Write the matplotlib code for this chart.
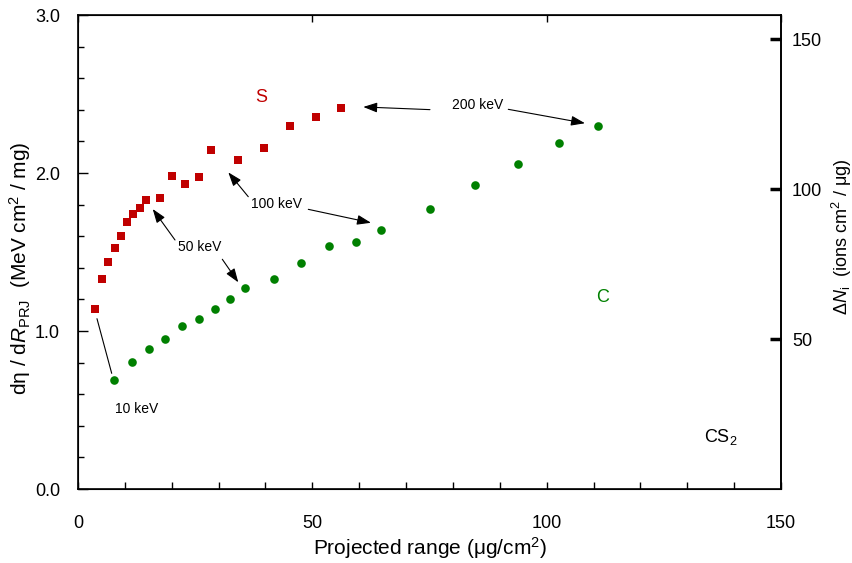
import numpy as np
import matplotlib
matplotlib.use('Agg')
import matplotlib.pyplot as plt
from matplotlib.ticker import MultipleLocator

plt.rcParams['font.family'] = ['Liberation Sans', 'DejaVu Sans']
plt.rcParams['mathtext.fontset'] = 'custom'
plt.rcParams['mathtext.rm'] = 'Liberation Sans'
plt.rcParams['mathtext.it'] = 'Liberation Sans:italic'

# sulfur ions: projected range (ug/cm2) vs dEta/dR
s_range = [3.69, 5.12, 6.34, 7.89, 9.11, 10.52, 11.80, 13.23, 14.51, 17.43,
           20.12, 22.89, 25.75, 28.44, 34.07, 39.68, 45.17, 50.78, 56.18]
s_deta = [1.137, 1.327, 1.437, 1.525, 1.600, 1.692, 1.739, 1.780, 1.827, 1.844,
          1.981, 1.928, 1.975, 2.146, 2.084, 2.160, 2.296, 2.356, 2.411]

# carbon ions
c_range = [7.74, 11.59, 15.15, 18.63, 22.19, 25.75, 29.16, 32.36, 35.57, 41.82,
           47.58, 53.49, 59.31, 64.71, 75.17, 84.70, 93.94, 102.69, 110.88]
c_deta = [0.692, 0.802, 0.888, 0.951, 1.030, 1.074, 1.141, 1.203, 1.270, 1.327,
          1.432, 1.538, 1.561, 1.641, 1.770, 1.926, 2.055, 2.190, 2.296]

red = '#c00000'
green = '#008000'

fig = plt.figure(figsize=(8.53, 5.63), dpi=100)
ax = fig.add_axes([78/853, 74/563, 703/853, 474/563])

ax.plot(s_range, s_deta, 's', color=red, markersize=6, markeredgewidth=0)
ax.plot(c_range, c_deta, 'o', color=green, markersize=6.2, markeredgewidth=0)

ax.set_xlim(0, 150)
ax.set_ylim(0, 3.0)
ax.xaxis.set_major_locator(MultipleLocator(50))
ax.xaxis.set_minor_locator(MultipleLocator(10))
ax.yaxis.set_major_locator(MultipleLocator(1.0))
ax.yaxis.set_minor_locator(MultipleLocator(0.2))
ax.yaxis.set_major_formatter(plt.FormatStrFormatter('%.1f'))
ax.tick_params(axis='x', which='both', direction='in', length=5, width=1,
               labelsize=13, pad=19, top=True)
ax.tick_params(axis='x', which='minor', top=False)
ax.tick_params(axis='y', which='major', direction='in', length=7, width=1,
               labelsize=13, pad=13)
ax.tick_params(axis='y', which='minor', direction='in', length=4, width=1)
for sp in ax.spines.values():
    sp.set_linewidth(1.2)

ax.set_xlabel('Projected range (μg/cm$^2$)', fontsize=15)
ax.xaxis.label.set_va('center')
ax.xaxis.set_label_coords(0.5, -0.124)
ax.set_ylabel('dη / d$\\mathit{R}_{\\rm PRJ}$  (MeV cm$^2$ / mg)', fontsize=15)
ax.yaxis.label.set_va('center')
ax.yaxis.set_label_coords(-0.082, 0.466)

# right axis: number of ions
ax2 = ax.twinx()
ax2.set_ylim(0, 158)
ax2.set_yticks([50, 100, 150])
ax2.tick_params(axis='y', direction='in', length=8, width=2.5, labelsize=13, pad=8)
ax2.spines['right'].set_linewidth(1.2)
ax2.set_ylabel('Δ$\\mathit{N}_{\\rm i}$  (ions cm$^2$ / μg)', fontsize=13)
ax2.yaxis.label.set_va('center')
ax2.yaxis.set_label_coords(1.087, 0.532)

arrow = dict(arrowstyle='-|>,head_length=0.7,head_width=0.25', color='black',
             lw=0.8, shrinkA=0, shrinkB=0, mutation_scale=12)
line = dict(arrowstyle='-', color='black', lw=0.8, shrinkA=0, shrinkB=0)

ax.annotate('', xy=(7.19, 0.732), xytext=(4.05, 1.078), arrowprops=line)
ax.text(12.57, 0.506, '10 keV', fontsize=10, ha='center', va='center')

ax.text(26.03, 1.532, '50 keV', fontsize=10, ha='center', va='center')
ax.annotate('', xy=(15.94, 1.772), xytext=(20.70, 1.576), arrowprops=arrow)
ax.annotate('', xy=(34.20, 1.308), xytext=(30.79, 1.454), arrowprops=arrow)

ax.text(42.39, 1.804, '100 keV', fontsize=10, ha='center', va='center')
ax.annotate('', xy=(32.07, 2.004), xytext=(36.33, 1.850), arrowprops=arrow)
ax.annotate('', xy=(62.51, 1.685), xytext=(49.14, 1.770), arrowprops=arrow)

ax.text(85.28, 2.428, '200 keV', fontsize=10, ha='center', va='center')
ax.annotate('', xy=(60.87, 2.418), xytext=(75.10, 2.401), arrowprops=arrow)
ax.annotate('', xy=(108.17, 2.315), xytext=(91.81, 2.403), arrowprops=arrow)

ax.text(39.04, 2.475, 'S', color=red, fontsize=13, ha='center', va='center')
ax.text(112.0, 1.215, 'C', color=green, fontsize=13, ha='center', va='center')
ax.text(133.6, 0.329, 'CS$_2$', fontsize=13, ha='left', va='center')

fig.savefig('out.png', dpi=100)
